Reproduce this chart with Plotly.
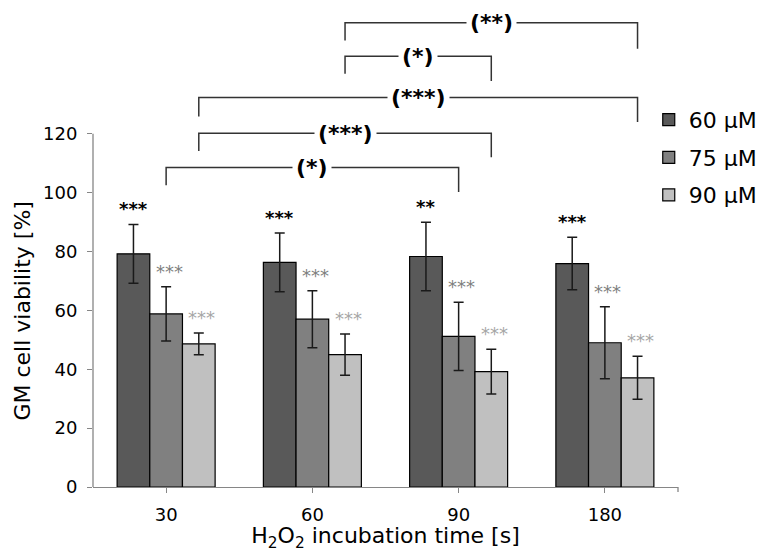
import plotly.graph_objects as go

categories = ["30", "60", "90", "180"]
series_names = ["60 µM", "75 µM", "90 µM"]
v60 = [79.2, 76.3, 78.3, 75.9]
e60 = [10.0, 10.0, 11.6, 8.9]
v75 = [58.8, 57.0, 51.2, 49.0]
e75 = [9.2, 9.7, 11.6, 12.2]
v90 = [48.6, 45.0, 39.2, 37.1]
e90 = [3.7, 7.0, 7.6, 7.3]
stars60 = ["***", "***", "**", "***"]
stars75 = ["***", "***", "***", "***"]
stars90 = ["***", "***", "***", "***"]

# brackets: (series index, group a, group b, y of bar, y left end, y right end, label)
brackets = [
    (1, 0, 2, 108.5, 102.5, 100.2, "(*)"),
    (2, 0, 2, 120.2, 114.1, 112.0, "(***)"),
    (2, 0, 3, 132.3, 125.9, 124.0, "(***)"),
    (2, 1, 2, 146.3, 140.4, 137.9, "(*)"),
    (2, 1, 3, 157.7, 151.7, 148.9, "(**)"),
]

colors = ["#595959", "#808080", "#c0c0c0"]
star_colors = ["#000000", "#7f7f7f", "#a6a6a6"]
FONT = "DejaVu Sans"
xs = list(range(len(categories)))
values = [v60, v75, v90]
errors = [e60, e75, e90]
stars = [stars60, stars75, stars90]
bargap = 0.33
bw = (1 - bargap) / 3
offsets = [-bw, 0.0, bw]

fig = go.Figure()
for k in range(3):
    fig.add_trace(go.Bar(
        x=xs, y=values[k], name=series_names[k], legendgroup=f"g{k}",
        marker=dict(color=colors[k], line=dict(color="#000000", width=1.2)),
        error_y=dict(type="data", array=errors[k], color="#1a1a1a", thickness=1.5, width=5),
    ))

annotations = []
for k in range(3):
    for i in xs:
        annotations.append(dict(
            x=i + offsets[k], y=values[k][i] + errors[k][i], xref="x", yref="y",
            text=stars[k][i], showarrow=False, yanchor="bottom", yshift=3,
            xshift=0 if k == 0 else 3,
            font=dict(family=FONT, size=18, color=star_colors[k],
                      weight="bold" if k == 0 else "normal"),
        ))

shapes = []
for s, a, b, y, yl, yr, lab in brackets:
    xa = a + offsets[s]
    xb = b + offsets[s]
    shapes.append(dict(
        type="path", xref="x", yref="y",
        path=f"M {xa},{yl} L {xa},{y} L {xb},{y} L {xb},{yr}",
        line=dict(color="#333333", width=1.5),
    ))
    annotations.append(dict(
        x=(xa + xb) / 2, y=y, xref="x", yref="y", text=lab, showarrow=False,
        yanchor="middle", bgcolor="white", borderpad=3,
        font=dict(family=FONT, size=22, color="#000000", weight="bold"),
    ))

# y axis line (only up to 120)
shapes.append(dict(type="line", xref="paper", yref="y", x0=0, x1=0, y0=0, y1=120,
                   line=dict(color="#868686", width=1.3)))
# end tick at the right end of the category axis
shapes.append(dict(type="line", xref="paper", yref="paper", x0=1, x1=1, y0=0, y1=-5 / 471,
                   line=dict(color="#868686", width=1.3)))

annotations.append(dict(
    x=-0.121, y=60, xref="paper", yref="y", text="GM cell viability [%]",
    xanchor="center", yanchor="middle",
    textangle=-90, showarrow=False, font=dict(family=FONT, size=22, color="#000000"),
))

fig.update_layout(
    width=763, height=552,
    margin=dict(l=93, r=85, t=16, b=65, autoexpand=False),
    paper_bgcolor="white", plot_bgcolor="white",
    barmode="group", bargap=bargap, bargroupgap=0,
    font=dict(family=FONT, color="#000000"),
    shapes=shapes, annotations=annotations,
    legend=dict(x=0.950, y=0.824, xanchor="left", yanchor="top",
                font=dict(family=FONT, size=22), tracegroupgap=6,
                bgcolor="rgba(0,0,0,0)"),
    xaxis=dict(
        range=[-0.5, 3.5], tickvals=xs, ticktext=categories,
        showline=True, linecolor="#868686", linewidth=1.3,
        ticks="outside", ticklen=5, tickcolor="#868686", tickwidth=1.3,
        ticklabelstandoff=6,
        tickfont=dict(family=FONT, size=18, color="#000000"),
        showgrid=False, zeroline=False,
        title=dict(text="H<sub>2</sub>O<sub>2</sub> incubation time [s]",
                   font=dict(family=FONT, size=22, color="#000000"), standoff=2),
    ),
    yaxis=dict(
        range=[0, 160], tickvals=[0, 20, 40, 60, 80, 100, 120],
        showline=False, ticks="outside", ticklen=5, tickcolor="#868686", tickwidth=1.3,
        ticklabelstandoff=6,
        tickfont=dict(family=FONT, size=18, color="#000000"),
        showgrid=False, zeroline=False,
    ),
)

fig.write_html("out.html")
